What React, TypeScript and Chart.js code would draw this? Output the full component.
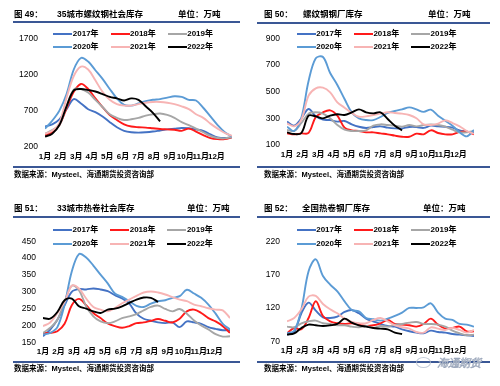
import React, { useEffect, useRef } from "react";
import { Chart, registerables } from "chart.js";

Chart.register(...registerables);

// ---------- data ----------
const MONTHS = ["1月", "2月", "3月", "4月", "5月", "6月", "7月", "8月", "9月", "10月", "11月", "12月"];
const YEARS = ["2017年", "2018年", "2019年", "2020年", "2021年", "2022年"];

// 图49 35城市螺纹钢社会库存 (biweekly samples)
const c49_2017 = [480, 510, 580, 720, 860, 800, 720, 680, 620, 540, 470, 420, 400, 395, 400, 410, 425, 440, 450, 460, 455, 440, 420, 370, 330, 320, 330];
const c49_2018 = [360, 400, 500, 730, 960, 1070, 1000, 870, 750, 640, 570, 510, 480, 470, 465, 455, 445, 440, 435, 420, 450, 410, 360, 320, 305, 305, 330];
const c49_2019 = [380, 430, 500, 760, 990, 1000, 950, 850, 750, 650, 600, 570, 580, 600, 630, 650, 660, 640, 600, 540, 500, 450, 400, 350, 320, 315, 335];
const c49_2020 = [450, 560, 700, 930, 1270, 1430, 1380, 1260, 1140, 1000, 870, 780, 770, 800, 830, 850, 860, 880, 900, 890, 850, 840, 740, 620, 500, 400, 340];
const c49_2021 = [380, 420, 530, 880, 1180, 1310, 1270, 1120, 960, 850, 790, 770, 770, 790, 810, 820, 820, 810, 790, 760, 720, 650, 600, 520, 450, 390, 350];
const c49_2022 = [340, 380, 500, 760, 980, 1000, 985, 965, 930, 890, 870, 840, 870, 850, 760, 670, 550];
const c49Ticks = [200, 700, 1200, 1700];

// 图50 螺纹钢钢厂库存
const c50_2017 = [275, 245, 300, 370, 315, 290, 287, 275, 280, 255, 237, 228, 235, 240, 230, 225, 225, 235, 235, 228, 245, 240, 237, 230, 210, 200, 190];
const c50_2018 = [187, 180, 187, 190, 310, 345, 360, 320, 230, 210, 205, 195, 195, 187, 180, 170, 162, 162, 185, 180, 210, 190, 180, 180, 198, 200, 180];
const c50_2019 = [212, 205, 265, 335, 345, 335, 300, 250, 215, 205, 205, 210, 245, 255, 250, 245, 238, 250, 240, 250, 255, 250, 238, 215, 195, 195, 205];
const c50_2020 = [237, 205, 305, 580, 750, 760, 640, 550, 445, 345, 300, 287, 287, 310, 340, 355, 367, 382, 367, 348, 365, 320, 282, 245, 195, 165, 212];
const c50_2021 = [262, 240, 290, 470, 525, 530, 495, 420, 380, 340, 312, 315, 325, 335, 345, 340, 335, 325, 300, 255, 250, 260, 285, 265, 240, 205, 185];
const c50_2022 = [195, 182, 190, 320, 315, 300, 320, 330, 325, 345, 367, 345, 337, 345, 295, 245, 210];
const c50Ticks = [100, 300, 500, 700, 900];

// 图51 33城市热卷社会库存
const c51_2017 = [168, 188, 217, 260, 300, 308, 307, 310, 307, 302, 290, 280, 265, 235, 220, 214, 209, 207, 209, 195, 212, 209, 205, 195, 190, 186, 186];
const c51_2018 = [178, 178, 183, 205, 260, 279, 260, 237, 222, 206, 198, 193, 198, 207, 209, 214, 219, 214, 209, 220, 242, 247, 237, 222, 212, 198, 178];
const c51_2019 = [178, 193, 217, 270, 318, 305, 257, 227, 212, 207, 212, 222, 227, 234, 245, 255, 259, 249, 242, 249, 235, 215, 200, 188, 174, 167, 168];
const c51_2020 = [173, 178, 195, 262, 360, 412, 402, 378, 351, 325, 295, 285, 272, 258, 255, 265, 272, 275, 282, 287, 306, 295, 282, 262, 235, 205, 188];
const c51_2021 = [198, 209, 237, 270, 318, 310, 280, 255, 247, 242, 252, 266, 277, 288, 298, 301, 298, 292, 284, 277, 272, 262, 257, 251, 247, 245, 222];
const c51_2022 = [222, 220, 240, 275, 280, 257, 250, 242, 237, 247, 250, 257, 267, 277, 283, 282, 270];
const c51Ticks = [150, 200, 250, 300, 350, 400, 450];

// 图52 全国热卷钢厂库存
const c52_2017 = [80, 84, 112, 128, 116, 106, 105, 107, 114, 117, 112, 104, 100, 96, 93, 92, 88, 85, 83, 82, 86, 84, 83, 81, 80, 79, 78];
const c52_2018 = [82, 90, 88, 105, 130, 108, 100, 97, 96, 97, 95, 93, 94, 97, 102, 96, 95, 94, 92, 96, 104, 95, 89, 90, 92, 85, 85];
const c52_2019 = [92, 91, 97, 100, 101, 97, 96, 94, 94, 92, 91, 93, 90, 93, 92, 95, 96, 98, 99, 96, 96, 95, 92, 86, 82, 79, 80];
const c52_2020 = [82, 86, 118, 175, 193, 168, 155, 145, 130, 117, 115, 105, 103, 101, 104, 108, 113, 120, 120, 121, 127, 113, 104, 102, 96, 95, 92];
const c52_2021 = [100, 105, 118, 137, 138, 126, 118, 112, 104, 99, 97, 97, 102, 105, 100, 94, 91, 89, 84, 83, 91, 89, 87, 90, 87, 83, 87];
const c52_2022 = [80, 82, 90, 95, 94, 93, 94, 96, 104, 98, 94, 92, 90, 89, 88, 83, 81];
const c52Ticks = [70, 120, 170, 220];

const SAMPLE_INTERVALS = 26; // 27 samples across 12 months

// ---------- styles ----------
const LINE_COLORS = ["#4472C4", "#FF1A1A", "#A6A6A6", "#5B9BD5", "#F7B4B4", "#000000"];
const RULE_COLOR = "#3A5795";
const FONT = '"Liberation Sans", Arial, "Noto Sans CJK SC", sans-serif';
const CJK_FONT = '"Liberation Sans", Arial, "Noto Sans CJK SC", sans-serif';

type PanelCfg = {
  ox: number; oy: number;
  num: string; name: string; source: string;
  series: number[][]; yTicks: number[];
  plot: { l: number; r: number; t: number; b: number };
  titleY: number; nameX: number; unitX: number;
  ruleTop: number; ruleBottom: number; ruleX0: number;
  legendX: number; legendY: number; srcY: number;
};

const SRC = "数据来源：Mysteel、海通期货投资咨询部";

const PANELS: PanelCfg[] = [
  {
    ox: 0, oy: 0, num: "图 49：", name: "35城市螺纹钢社会库存", source: SRC,
    series: [c49_2017, c49_2018, c49_2019, c49_2020, c49_2021, c49_2022], yTicks: c49Ticks,
    plot: { l: 45, r: 232, t: 38.5, b: 146.7 },
    titleY: 14, nameX: 57, unitX: 178, ruleTop: 21, ruleBottom: 166, ruleX0: 13,
    legendX: 53.3, legendY: 33.5, srcY: 174.5,
  },
  {
    ox: 250, oy: 0, num: "图 50：", name: "螺纹钢钢厂库存", source: SRC,
    series: [c50_2017, c50_2018, c50_2019, c50_2020, c50_2021, c50_2022], yTicks: c50Ticks,
    plot: { l: 37, r: 224, t: 38.3, b: 145 },
    titleY: 13.5, nameX: 53, unitX: 178, ruleTop: 21.5, ruleBottom: 166, ruleX0: 7,
    legendX: 46.7, legendY: 34, srcY: 175,
  },
  {
    ox: 0, oy: 193, num: "图 51：", name: "33城市热卷社会库存", source: SRC,
    series: [c51_2017, c51_2018, c51_2019, c51_2020, c51_2021, c51_2022], yTicks: c51Ticks,
    plot: { l: 43, r: 230, t: 48.3, b: 149.3 },
    titleY: 15, nameX: 57, unitX: 187, ruleTop: 23, ruleBottom: 167.5, ruleX0: 13,
    legendX: 53, legendY: 37.3, srcY: 176.3,
  },
  {
    ox: 250, oy: 193, num: "图 52：", name: "全国热卷钢厂库存", source: SRC,
    series: [c52_2017, c52_2018, c52_2019, c52_2020, c52_2021, c52_2022], yTicks: c52Ticks,
    plot: { l: 37, r: 224, t: 48.3, b: 148.3 },
    titleY: 15, nameX: 52, unitX: 173, ruleTop: 23, ruleBottom: 167.5, ruleX0: 7,
    legendX: 46.7, legendY: 37.3, srcY: 176,
  },
];

const W = 250;
const H = 193;
const X_AXIS_H = 20;

function PanelChart({ cfg }: { cfg: PanelCfg }) {
  const ref = useRef<HTMLCanvasElement | null>(null);
  useEffect(() => {
    if (!ref.current) return;
    const { plot } = cfg;
    const chart = new Chart(ref.current, {
      type: "line",
      data: {
        datasets: YEARS.map((label, k) => ({
          label,
          data: cfg.series[k].map((v, i) => ({ x: (i * 12) / SAMPLE_INTERVALS, y: v })),
          borderColor: LINE_COLORS[k],
          backgroundColor: LINE_COLORS[k],
          borderWidth: 1.9,
          pointRadius: 0,
          tension: 0.35,
          fill: false,
          order: 5 - k,
        })),
      },
      options: {
        responsive: false,
        animation: false,
        events: [],
        layout: {
          padding: { left: 0, right: W - plot.r, top: plot.t, bottom: H - plot.b - X_AXIS_H },
        },
        plugins: { legend: { display: false }, tooltip: { enabled: false }, title: { display: false } },
        scales: {
          x: {
            type: "linear",
            min: 0,
            max: 12,
            grid: { display: false, drawTicks: false },
            border: { display: false },
            afterBuildTicks: (s: any) => {
              s.ticks = MONTHS.map((_, i) => ({ value: i }));
            },
            afterFit: (s: any) => {
              s.height = X_AXIS_H;
            },
            ticks: {
              autoSkip: false,
              maxRotation: 0,
              minRotation: 0,
              padding: 5,
              color: "#000",
              font: { family: FONT, size: 8, weight: "bold" },
              callback: (_v: any, i: number) => MONTHS[i],
            },
          },
          y: {
            type: "linear",
            min: cfg.yTicks[0],
            max: cfg.yTicks[cfg.yTicks.length - 1],
            grid: { display: false, drawTicks: false },
            border: { display: false },
            afterBuildTicks: (s: any) => {
              s.ticks = cfg.yTicks.map((v) => ({ value: v }));
            },
            afterFit: (s: any) => {
              s.width = plot.l;
            },
            ticks: {
              padding: 7,
              color: "#000",
              font: { family: FONT, size: 8.5 },
              callback: (v: any) => String(v),
            },
          },
        },
      } as any,
    });
    return () => chart.destroy();
  }, [cfg]);
  return <canvas ref={ref} width={W} height={H} style={{ position: "absolute", left: 0, top: 0, width: W, height: H }} />;
}

function Txt({ x, y, size, bold, children, color }: any) {
  return (
    <div
      style={{
        position: "absolute",
        left: x,
        top: y - 7,
        height: 14,
        lineHeight: "14px",
        fontSize: size,
        fontWeight: bold ? 700 : 400,
        fontFamily: CJK_FONT,
        whiteSpace: "nowrap",
        color: color || "#000",
      }}
    >
      {children}
    </div>
  );
}

function Panel({ cfg }: { cfg: PanelCfg }) {
  const pitch = 57.2;
  return (
    <div style={{ position: "absolute", left: cfg.ox, top: cfg.oy, width: W, height: H }}>
      <PanelChart cfg={cfg} />
      <Txt x={14} y={cfg.titleY} size={8.5} bold>{cfg.num}</Txt>
      <Txt x={cfg.nameX} y={cfg.titleY} size={8.5} bold>{cfg.name}</Txt>
      <Txt x={cfg.unitX} y={cfg.titleY} size={8.5} bold>单位：万吨</Txt>
      <div style={{ position: "absolute", left: cfg.ruleX0, top: cfg.ruleTop, width: 240 - cfg.ruleX0, height: 2, background: RULE_COLOR }} />
      <div style={{ position: "absolute", left: cfg.ruleX0, top: cfg.ruleBottom, width: 240 - cfg.ruleX0, height: 2, background: RULE_COLOR }} />
      {YEARS.map((yr, k) => {
        const col = k % 3;
        const row = Math.floor(k / 3);
        const lx = cfg.legendX + col * pitch;
        const ly = cfg.legendY + row * 13.2;
        return (
          <React.Fragment key={yr}>
            <div style={{ position: "absolute", left: lx, top: ly - 1, width: 19, height: 2, background: LINE_COLORS[k] }} />
            <Txt x={lx + 19.5} y={ly} size={8} bold>{yr}</Txt>
          </React.Fragment>
        );
      })}
      <Txt x={14} y={cfg.srcY} size={7.5} bold>{cfg.source}</Txt>
    </div>
  );
}

export default function App() {
  return (
    <div style={{ position: "absolute", left: 0, top: 0, width: 500, height: 386, background: "#fff", overflow: "hidden" }}>
      {PANELS.map((p) => (
        <Panel key={p.num} cfg={p} />
      ))}
      <div
        style={{
          position: "absolute",
          left: 416,
          top: 357,
          width: 13,
          height: 9,
          border: "1px solid #b5bfcf",
          borderRadius: "50%",
          opacity: 0.8,
        }}
      />
      <div
        style={{
          position: "absolute",
          left: 437,
          top: 354,
          height: 16,
          lineHeight: "16px",
          fontSize: 11,
          fontStyle: "italic",
          fontFamily: '"Noto Sans CJK SC", sans-serif',
          color: "#ffffff",
          WebkitTextStroke: "0.6px #9aa6ba",
          whiteSpace: "nowrap",
        }}
      >
        海通期货
      </div>
    </div>
  );
}
